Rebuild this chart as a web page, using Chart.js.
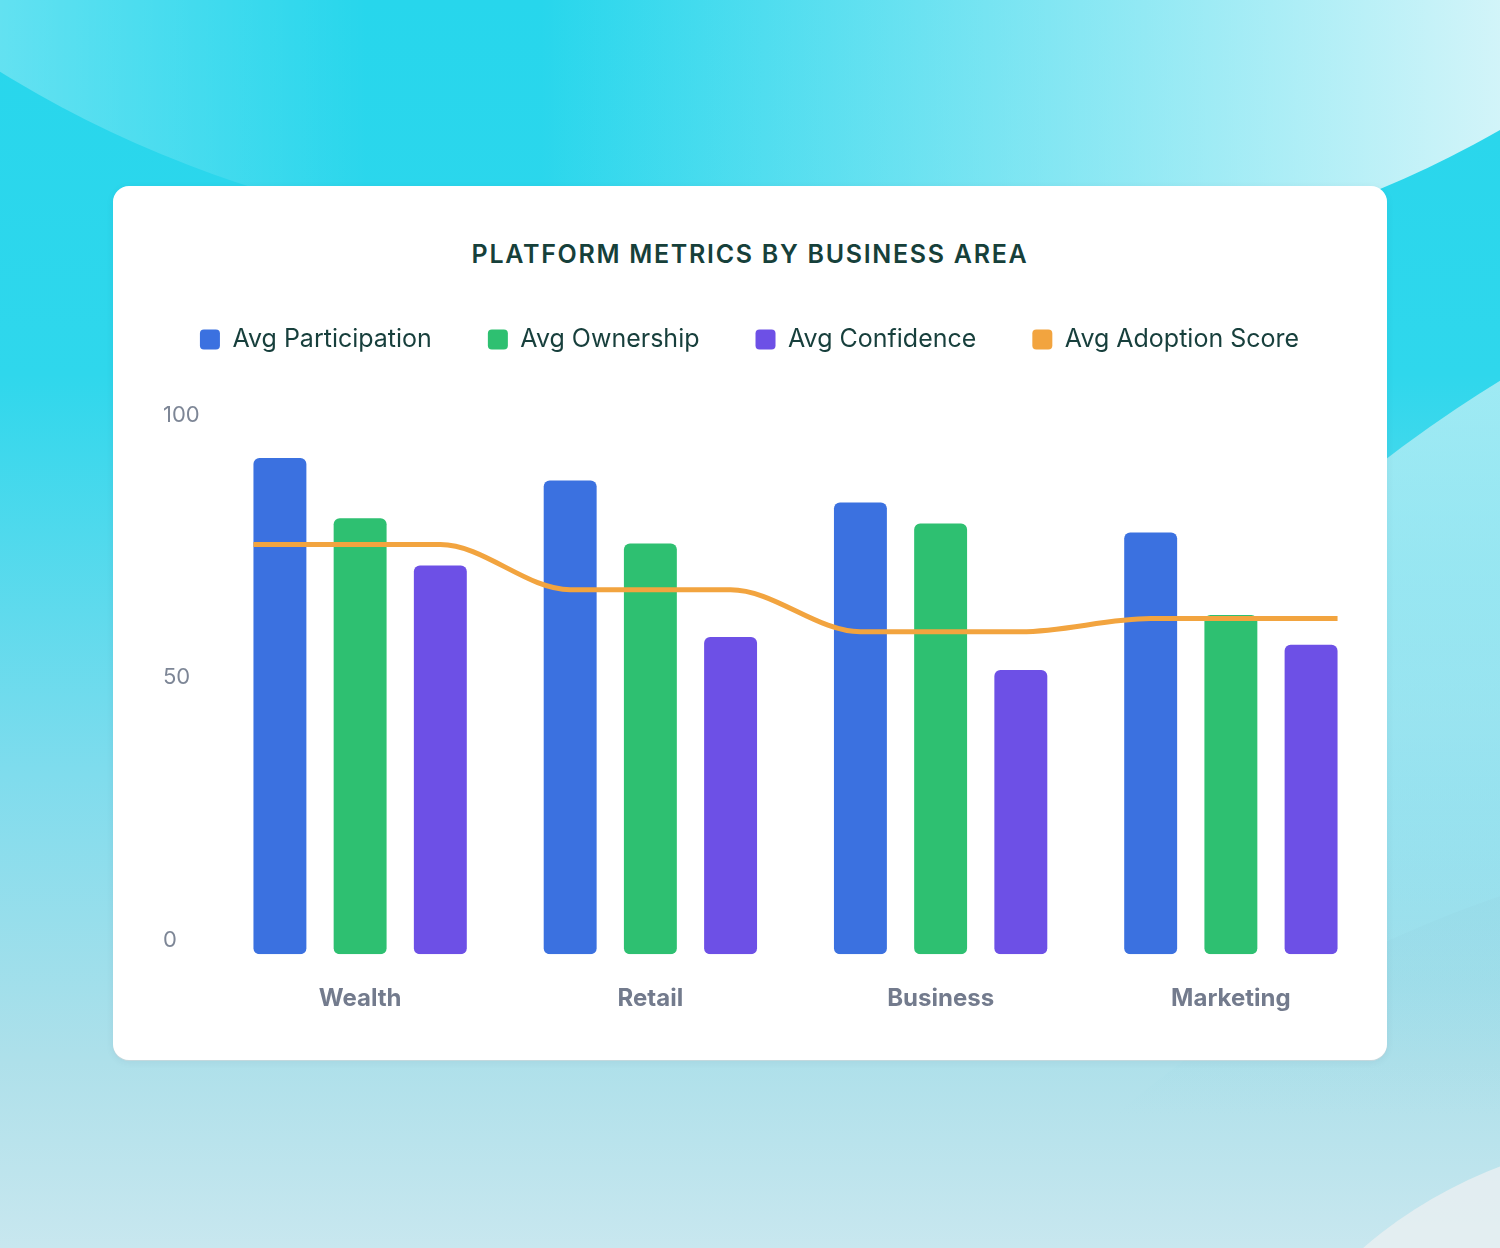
<!DOCTYPE html>
<html>
<head>
<meta charset="utf-8">
<script src="https://cdn.jsdelivr.net/npm/chart.js@4.4.1/dist/chart.umd.min.js"></script>
<style>
  html, body { margin: 0; padding: 0; }
  body {
    width: 1500px; height: 1248px; overflow: hidden; position: relative;
    font-family: Inter, "Noto Sans", sans-serif;
    background: linear-gradient(180deg, #27d6ec 0%, #2fd7ec 30%, #7fdced 62%, #aee0ea 85%, #c8e7ef 100%);
  }
  .shape { position: absolute; border-radius: 50%; }
  /* light sweep at top left */
  .s1 {
    left: -533px; top: -2010px; width: 2250px; height: 2250px;
    background: linear-gradient(90deg, rgba(255,255,255,0.3) 22%, rgba(255,255,255,0) 40%);
  }
  /* pale glow at top right */
  .s2 {
    left: -102px; top: -1871px; width: 2142px; height: 2142px;
    background: linear-gradient(90deg, rgba(255,255,255,0) 30%, rgba(225,247,250,0.92) 75%);
  }
  /* pale band on the right side */
  .s3 {
    left: 862px; top: 183px; width: 2676px; height: 2676px;
    background: linear-gradient(180deg, rgba(205,243,248,0.85) 0%, rgba(190,236,243,0.5) 20%, rgba(170,224,234,0) 30%);
  }
  /* deeper band low on the right */
  .s5 {
    left: 708px; top: 835px; width: 2330px; height: 2330px;
    background: linear-gradient(180deg, rgba(150,214,228,0.45) 0%, rgba(150,214,228,0) 12%);
  }
  /* soft grey in the bottom right corner */
  .s4 {
    left: 1250px; top: 1130px; width: 900px; height: 700px;
    background: rgba(232,238,241,0.85);
  }
  .card {
    position: absolute; left: 113px; top: 186px; width: 1274px; height: 874px;
    background: #ffffff; border-radius: 16px;
    box-shadow: 0 1px 0 rgba(200,215,220,0.9), 0 2px 8px rgba(0,40,60,0.06);
  }
  .title {
    position: absolute; left: 113px; width: 1274px; top: 238px; height: 32px;
    line-height: 32px; text-align: center;
    font-size: 25px; font-weight: 600; letter-spacing: 1.7px; color: #16403a;
  }
  .chart-box {
    position: absolute; left: 123px; top: 271px; width: 1254px; height: 778px;
  }
</style>
</head>
<body>
<div class="shape s1"></div>
<div class="shape s2"></div>
<div class="shape s3"></div>
<div class="shape s5"></div>
<div class="shape s4"></div>
<div class="card"></div>
<div class="title">PLATFORM METRICS BY BUSINESS AREA</div>
<div class="chart-box"><canvas id="metricsChart"></canvas></div>

<script>
// Data
const areas = ['Wealth', 'Retail', 'Business', 'Marketing'];
const participation = [94.5, 90.2, 86.0, 80.3];
const ownership = [83.0, 78.2, 82.0, 64.6];
const confidence = [74.0, 60.4, 54.1, 58.9];
const adoption = [78.0, 69.4, 61.4, 63.9];
const yTicks = [0, 50, 100];

// Bar layout inside each category
const CATEGORY_PCT = 0.829;
const BAR_PCT = 0.66;
const LEGEND_GAP = 67;

// Bars sit on a linear x axis, one unit per business area
function toPoints(values) {
    return values.map((v, i) => ({ x: i, y: v }));
}

// Adoption line runs through the bar centres of each group, from outer bar edge to outer bar edge
function buildAdoptionPoints() {
    const slot = CATEGORY_PCT / 3;
    const edge = slot + BAR_PCT * slot / 2;
    const pts = [{ x: -edge, y: adoption[0] }];
    adoption.forEach((v, i) => {
        [-1, 0, 1].forEach(k => pts.push({ x: i + k * slot, y: v }));
    });
    pts.push({ x: areas.length - 1 + edge, y: adoption[adoption.length - 1] });
    return pts;
}

// Extra space between legend and plot
const legendGap = {
    id: 'legendGap',
    beforeLayout(chart) {
        const legend = chart.legend;
        if (!legend || legend._gapPatched) return;
        const fit = legend.fit;
        legend.fit = function () {
            fit.call(this);
            this.height += LEGEND_GAP;
        };
        legend._gapPatched = true;
    }
};

Chart.defaults.font.family = 'Inter, "Noto Sans", sans-serif';

function barSet(label, data, color) {
    return {
        type: 'bar',
        label: label,
        data: toPoints(data),
        backgroundColor: color,
        borderWidth: 0,
        borderRadius: 6,
        borderSkipped: false,
        categoryPercentage: CATEGORY_PCT,
        barPercentage: BAR_PCT,
        order: 1
    };
}

const ctx = document.getElementById('metricsChart');
new Chart(ctx, {
    type: 'bar',
    data: {
        datasets: [
            barSet('Avg Participation', participation, '#3b71e0'),
            barSet('Avg Ownership', ownership, '#2ec071'),
            barSet('Avg Confidence', confidence, '#6d50e6'),
            {
                type: 'line',
                label: 'Avg Adoption Score',
                data: buildAdoptionPoints(),
                borderColor: '#f2a43f',
                backgroundColor: '#f2a43f',
                borderWidth: 5,
                pointRadius: 0,
                cubicInterpolationMode: 'monotone',
                fill: false,
                order: 0
            }
        ]
    },
    options: {
        responsive: true,
        maintainAspectRatio: false,
        animation: false,
        layout: { padding: { left: 0, right: 1, top: 0, bottom: 6 } },
        plugins: {
            tooltip: { enabled: false },
            legend: {
                position: 'top',
                labels: {
                    color: '#173f3c',
                    font: { size: 25 },
                    boxWidth: 20,
                    boxHeight: 20,
                    padding: 56,
                    useBorderRadius: true,
                    borderRadius: 4,
                    sort: (a, b) => a.datasetIndex - b.datasetIndex,
                    generateLabels: (chart) =>
                        Chart.defaults.plugins.legend.labels.generateLabels(chart)
                            .map(item => ({ ...item, lineWidth: 0 }))
                }
            }
        },
        scales: {
            x: {
                type: 'linear',
                offset: false,
                min: -0.5,
                max: areas.length - 0.5,
                grid: { display: false, drawTicks: false, offset: false },
                border: { display: false },
                afterBuildTicks: (scale) => { scale.ticks = areas.map((a, i) => ({ value: i })); },
                ticks: {
                    color: '#737b8d',
                    font: { size: 24, weight: '700' },
                    padding: 30,
                    autoSkip: false,
                    maxRotation: 0,
                    callback: (value) => areas[value]
                }
            },
            y: {
                min: 0,
                max: 100,
                grid: { display: false, drawTicks: false },
                border: { display: false },
                afterFit: (scale) => { scale.width = 92; },
                afterBuildTicks: (scale) => { scale.ticks = yTicks.map(v => ({ value: v })); },
                ticks: {
                    color: '#7d8696',
                    font: { size: 22 },
                    mirror: true,
                    padding: -52,
                    labelOffset: -14
                }
            }
        }
    },
    plugins: [legendGap]
});
</script>
</body>
</html>
